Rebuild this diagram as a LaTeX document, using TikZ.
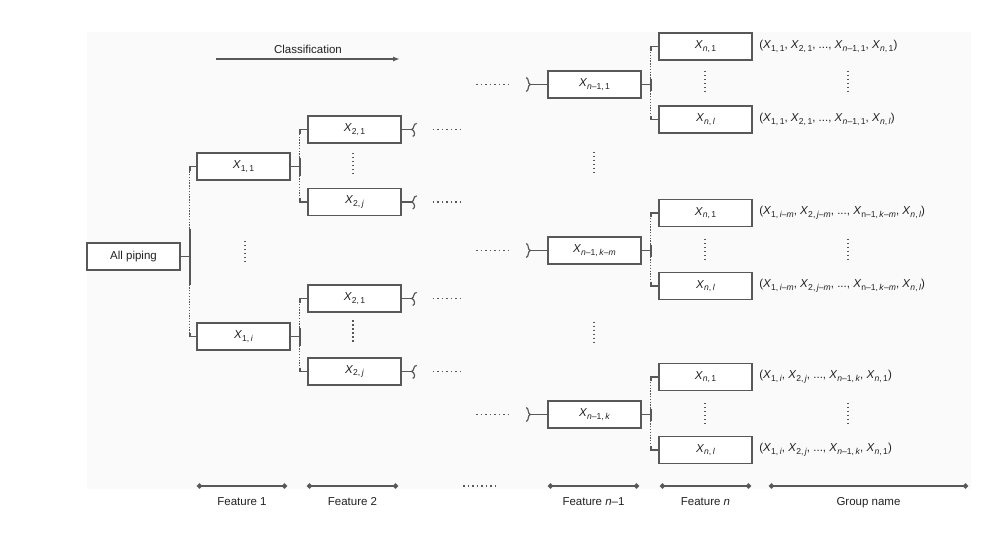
\documentclass[tikz,border=0pt]{standalone}
\usepackage{fontspec}
\setmainfont{Liberation Sans}
\usetikzlibrary{calc}
\usetikzlibrary{arrows.meta}
\definecolor{linegray}{HTML}{585858}
\definecolor{bggray}{HTML}{FAFAFA}
\definecolor{txtgray}{HTML}{222222}
\newcommand{\xx}[2]{\textit{X}\raisebox{-0.45ex}{\fontsize{8.6}{9}\selectfont #1,\,#2}}
\newcommand{\fork}[4]{%
  \coordinate (t) at ($(#1.east)+(9,0)$);
  \draw[link] (#1.east) -- (t);
  \draw[link] ($(t)+(0,-#4)$) -- ($(t)+(0,#4)$);
  \draw[tdots] ($(t)+(0,-#4)$) -- (t |- #2.west);
  \draw[tdots] ($(t)+(0,#4)$) -- (t |- #3.west);
  \draw[link] ($(t |- #2.west)+(0,4)$) -- (t |- #2.west) -- (#2.west);
  \draw[link] ($(t |- #3.west)+(0,-4)$) -- (t |- #3.west) -- (#3.west);
}

\begin{document}
\begin{tikzpicture}[x=1pt,y=-1pt,>=stealth,
  every node/.style={font=\fontsize{11.5}{13}\selectfont,text=txtgray},
  box/.style={draw=linegray,line width=1.5pt,fill=white,minimum width=93pt,minimum height=27pt,inner sep=0pt},
  link/.style={linegray,line width=1.5pt},
  vdots/.style={linegray,line width=1.7pt,dash pattern=on 1.7pt off 2.3pt},
  hdots/.style={linegray,line width=1.5pt,dash pattern=on 1.5pt off 3pt},
  tdots/.style={linegray,line width=1.3pt,dash pattern=on 1.3pt off 1.5pt}]
\useasboundingbox (0,0) rectangle (990,536);
\fill[bggray] (87,32) rectangle (971,489);

% feature 1 and 2
\node[box] (root) at (133.5,256.5) {All piping};
\node[box] (x11) at (243.5,166.5) {\xx{1}{1}};
\node[box] (x1i) at (243.5,336.5) {\xx{1}{\textit{i}}};
\node[box] (x21a) at (354.5,129.5) {\xx{2}{1}};
\node[box] (x2ja) at (354.5,202) {\xx{2}{\textit{j}}};
\node[box] (x21b) at (354.5,298.5) {\xx{2}{1}};
\node[box] (x2jb) at (354.5,371.5) {\xx{2}{\textit{j}}};

% feature n-1 and n
\node[box] (xa) at (594.5,84.5) {\xx{\textit{n}–1}{1}};
\node[box] (xb) at (594.5,250.5) {\xx{\textit{n}–1}{\textit{k}–\textit{m}}};
\node[box] (xc) at (594.5,414.5) {\xx{\textit{n}–1}{\textit{k}}};
\node[box] (xa1) at (705.5,46.5) {\xx{\textit{n}}{1}};
\node[box] (xal) at (705.5,119.5) {\xx{\textit{n}}{\textit{l}}};
\node[box] (xb1) at (705.5,213) {\xx{\textit{n}}{1}};
\node[box] (xbl) at (705.5,286) {\xx{\textit{n}}{\textit{l}}};
\node[box] (xc1) at (705.5,377) {\xx{\textit{n}}{1}};
\node[box] (xcl) at (705.5,450) {\xx{\textit{n}}{\textit{l}}};

\fork{root}{x11}{x1i}{28}
\fork{x11}{x21a}{x2ja}{9}
\fork{x1i}{x21b}{x2jb}{9}
\fork{xa}{xa1}{xal}{6}
\fork{xb}{xb1}{xbl}{6}
\fork{xc}{xc1}{xcl}{6}

% group names
\node[anchor=west] (ga1) at ($(xa1.east)+(3,0)$) {(\xx{1}{1}, \xx{2}{1}, ..., \xx{\textit{n}–1}{1}, \xx{\textit{n}}{1})};
\node[anchor=west] (gal) at ($(xal.east)+(3,0)$) {(\xx{1}{1}, \xx{2}{1}, ..., \xx{\textit{n}–1}{1}, \xx{\textit{n}}{\textit{l}})};
\node[anchor=west] (gb1) at ($(xb1.east)+(3,0)$) {(\xx{1}{\textit{i}–\textit{m}}, \xx{2}{\textit{j}–\textit{m}}, ..., \xx{n–1}{\textit{k}–\textit{m}}, \xx{\textit{n}}{\textit{l}})};
\node[anchor=west] (gbl) at ($(xbl.east)+(3,0)$) {(\xx{1}{\textit{i}–\textit{m}}, \xx{2}{\textit{j}–\textit{m}}, ..., \xx{n–1}{\textit{k}–\textit{m}}, \xx{\textit{n}}{\textit{l}})};
\node[anchor=west] (gc1) at ($(xc1.east)+(3,0)$) {(\xx{1}{\textit{i}}, \xx{2}{\textit{j}}, ..., \xx{\textit{n}–1}{\textit{k}}, \xx{\textit{n}}{1})};
\node[anchor=west] (gcl) at ($(xcl.east)+(3,0)$) {(\xx{1}{\textit{i}}, \xx{2}{\textit{j}}, ..., \xx{\textit{n}–1}{\textit{k}}, \xx{\textit{n}}{1})};

% breaks
\foreach \b in {x21a,x2ja,x21b,x2jb}{
  \draw[link] (\b.east) -- ++(10,0) coordinate (s);
  \draw[link,line width=1.2pt] ($(s)+(5,-6)$) .. controls ($(s)+(1,-6)$) and ($(s)+(3,-1)$) .. (s) .. controls ($(s)+(3,1)$) and ($(s)+(4,6)$) .. ($(s)+(1,7)$);
  \draw[hdots] ($(s)+(21,0)$) -- ++(31,0);
}
\foreach \b in {xa,xb,xc}{
  \draw[link] (\b.west) -- ++(-17,0) coordinate (s);
  \draw[link,line width=1.2pt] ($(s)+(-4,-7)$) .. controls ($(s)+(-1,-6)$) and ($(s)+(-3,-1)$) .. (s) .. controls ($(s)+(-3,1)$) and ($(s)+(-1,6)$) .. ($(s)+(-4,7)$);
  \draw[hdots] ($(s)+(-54,0)$) -- ++(32,0);
}

% vertical dots
\foreach \x/\y in {245/251.5,353/163.5,353/331,594/162.5,594/332.5,705/81.5,705/249.5,705/413.5,848/81.5,848/249.5,848/413.5}
  \draw[vdots] (\x,\y-11) -- (\x,\y+11);

% classification
\draw[link,line width=1.4pt,-{Latex[length=7pt,width=5pt]}] (216,59) -- (400,59) node[midway,above=1pt] {Classification};

% features
\foreach \a/\b/\t in {197/287/Feature 1,307/398/Feature 2,548/639/Feature \textit{n}–1,660/751/Feature \textit{n},769/968/Group name}
  \draw[link,{Circle[length=5pt]}-{Circle[length=5pt]}] (\a,486) -- (\b,486) node[midway,below=7pt] {\t};
\draw[hdots] (463,486) -- (495,486);
\end{tikzpicture}
\end{document}
